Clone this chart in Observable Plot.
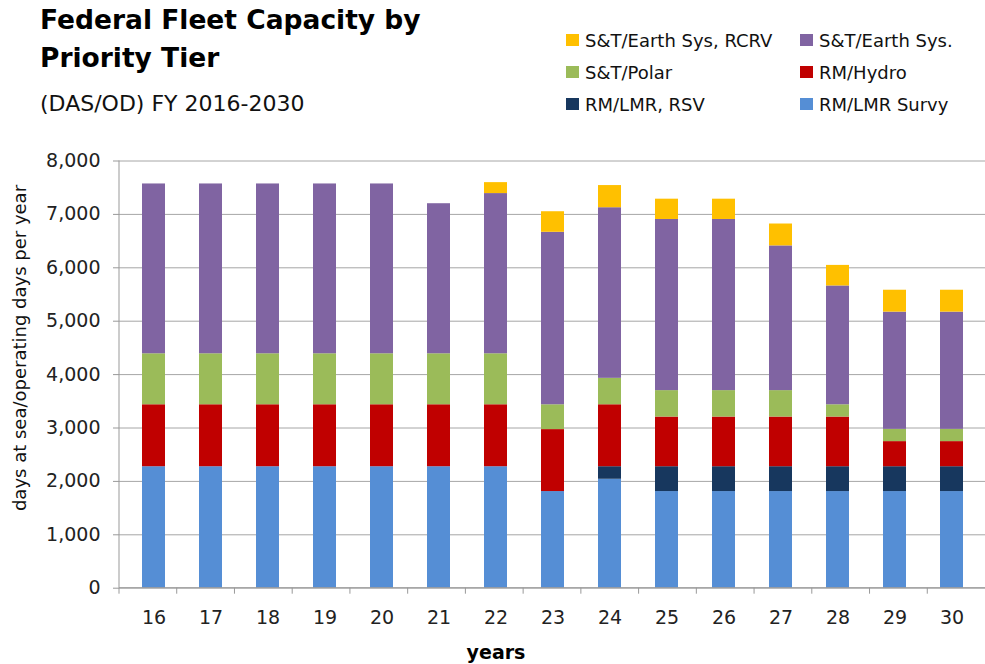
<!DOCTYPE html>
<html>
<head>
<meta charset="utf-8">
<script src="https://cdn.jsdelivr.net/npm/d3@7"></script>
<script src="https://cdn.jsdelivr.net/npm/@observablehq/plot@0.6"></script>
<style>
  html, body { margin: 0; padding: 0; background: #fff; }
  body { font-family: "DejaVu Sans", sans-serif; }
  #wrap { position: relative; width: 985px; height: 664px; overflow: hidden; }
  #chart { position: absolute; left: 0; top: 0; }
  .abs { position: absolute; white-space: nowrap; color: #000; }
  .title { left: 40px; top: 0.5px; font-size: 26.5px; font-weight: 700; line-height: 38px; }
  .subtitle { left: 40px; top: 91.4px; font-size: 22px; line-height: 26px; color: #111; }
  .leg { font-size: 18px; line-height: 22px; color: #111; }
  .sw { position: absolute; width: 13px; height: 12px; }
  .ylab { left: -180px; top: 338px; width: 400px; text-align: center; font-size: 18px; line-height: 20px; transform: rotate(-90deg); transform-origin: 200px 10px; color: #111; }
  .xlab { left: 446px; top: 639.5px; width: 100px; text-align: center; font-size: 19px; font-weight: 700; line-height: 24px; }
</style>
</head>
<body>
<div id="wrap">
  <div id="chart"></div>
  <div class="abs title">Federal Fleet Capacity by<br>Priority Tier</div>
  <div class="abs subtitle">(DAS/OD) FY 2016-2030</div>
  <div id="legend"></div>
  <div class="abs ylab">days at sea/operating days per year</div>
  <div class="abs xlab">years</div>
</div>
<script>
// ---- data ----
const years = ["16","17","18","19","20","21","22","23","24","25","26","27","28","29","30"];
const seriesNames = ["RM/LMR Survy","RM/LMR, RSV","RM/Hydro","S&T/Polar","S&T/Earth Sys.","S&T/Earth Sys, RCRV"];
const seriesColors = ["#558ED5","#17375E","#C00000","#9BBB59","#8064A2","#FFC000"];
const lmrSurvy = [2275,2275,2275,2275,2275,2275,2275,1810,2040,1810,1810,1810,1810,1810,1810];
const lmrRsv   = [0,0,0,0,0,0,0,0,235,465,465,465,465,465,465];
const hydro    = [1160,1160,1160,1160,1160,1160,1160,1160,1160,930,930,930,930,470,470];
const polar    = [955,955,955,955,955,955,955,465,495,495,495,495,230,230,230];
const earthSys = [3180,3180,3180,3180,3180,2810,3000,3230,3195,3205,3205,2710,2225,2195,2195];
const rcrv     = [0,0,0,0,0,0,205,385,415,380,380,410,385,410,410];
const yTicks = [0,1000,2000,3000,4000,5000,6000,7000,8000];
const legendOrder = ["S&T/Earth Sys, RCRV","S&T/Earth Sys.","S&T/Polar","RM/Hydro","RM/LMR, RSV","RM/LMR Survy"];

const seriesValues = [lmrSurvy, lmrRsv, hydro, polar, earthSys, rcrv];
const table = seriesNames.flatMap((s, si) =>
  years.map((y, yi) => ({year: y, series: s, value: seriesValues[si][yi]}))
).filter(d => d.value > 0);

const color = d3.scaleOrdinal(seriesNames, seriesColors);

// legend
const legend = document.getElementById("legend");
const colX = [566, 800];
legendOrder.forEach((name, i) => {
  const col = i % 2, row = Math.floor(i / 2);
  const sw = document.createElement("div");
  sw.className = "sw";
  sw.style.left = colX[col] + "px";
  sw.style.top = (34 + row * 32) + "px";
  sw.style.background = color(name);
  legend.appendChild(sw);
  const t = document.createElement("div");
  t.className = "abs leg";
  t.style.left = (colX[col] + 19) + "px";
  t.style.top = (29.8 + row * 32) + "px";
  t.textContent = name;
  legend.appendChild(t);
});

const axisLines = (index, scales, values, dims) => {
  const {width, height, marginLeft, marginRight, marginTop, marginBottom} = dims;
  const g = d3.create("svg:g");
  const bx = d3.scaleBand().domain(years).range([marginLeft, width - marginRight]);
  const bounds = years.map(y => bx(y));
  const yb = height - marginBottom;
  g.append("line").attr("x1", marginLeft).attr("x2", marginLeft)
    .attr("y1", marginTop).attr("y2", yb).attr("stroke", "#999").attr("stroke-width", 1);
  g.append("line").attr("x1", marginLeft).attr("x2", width - marginRight)
    .attr("y1", yb).attr("y2", yb).attr("stroke", "#999").attr("stroke-width", 1);
  g.selectAll("line.xt").data(bounds).join("line").attr("class", "xt")
    .attr("x1", d => d).attr("x2", d => d)
    .attr("y1", yb).attr("y2", yb + 6).attr("stroke", "#999");
  return g.node();
};

const chart = Plot.plot({
  width: 985,
  height: 664,
  marginTop: 160.5,
  marginBottom: 76.3,
  marginLeft: 119,
  marginRight: 0,
  style: {fontFamily: "'DejaVu Sans', sans-serif", fontSize: "19px", background: "transparent"},
  x: {domain: years, paddingInner: 0.6, paddingOuter: 0.3, label: null},
  y: {domain: [0, 8000], label: null},
  color: {domain: seriesNames, range: seriesColors},
  marks: [
    Plot.gridY(yTicks, {stroke: "#a6a6a6", strokeOpacity: 1, strokeWidth: 1}),
    Plot.barY(table, {x: "year", y: "value", fill: "series", order: seriesNames}),
    axisLines,
    Plot.axisY(yTicks, {tickSize: 6, tickPadding: 13, stroke: "#999", fill: "#222", tickFormat: d3.format(","), label: null}),
    Plot.axisX({tickSize: 0, tickPadding: 22, fill: "#222", label: null})
  ]
});
document.getElementById("chart").appendChild(chart);
</script>
</body>
</html>
